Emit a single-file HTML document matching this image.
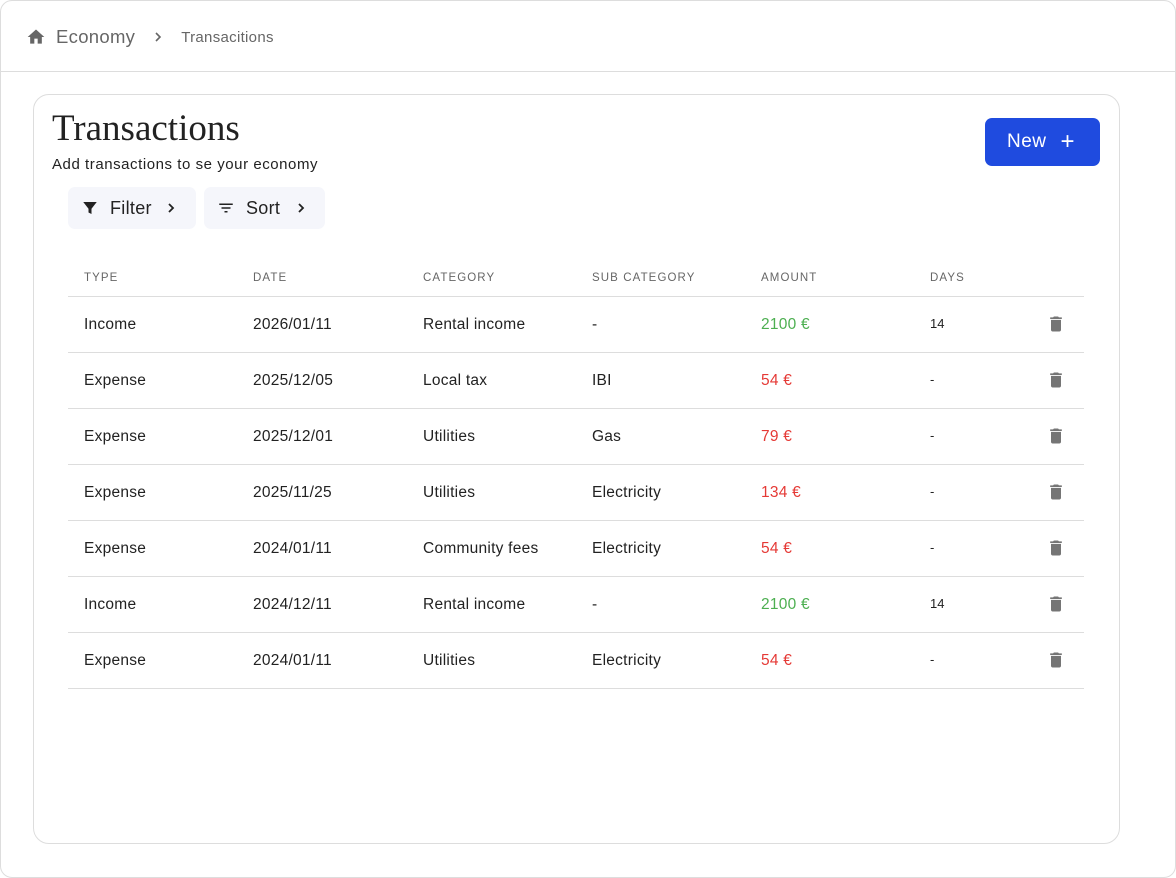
<!DOCTYPE html>
<html><head><meta charset="utf-8"><style>
*{box-sizing:border-box;margin:0;padding:0}
body{width:1176px;height:878px;background:#fff;font-family:"Liberation Sans",sans-serif;position:relative;overflow:hidden}
.frame{position:absolute;left:0;top:0;width:1176px;height:878px;border:1px solid #ddd;border-radius:12px}
.hdr{position:absolute;left:0;top:71px;width:1176px;height:1px;background:#ddd}
.crumb{position:absolute;top:26px;left:26px;display:flex;align-items:center;color:#666}
.card{position:absolute;left:33px;top:94px;width:1087px;height:750px;border:1px solid #ddd;border-radius:16px}
.title{position:absolute;left:52px;top:107px;font-family:"Liberation Serif",serif;font-size:37px;color:#222}
.sub{position:absolute;left:52px;top:156px;font-size:15px;letter-spacing:.55px;color:#222}
.btn{position:absolute;top:187px;height:42px;background:#f5f6fb;border-radius:7px;display:flex;align-items:center;font-size:18px;letter-spacing:.3px;color:#222}
.new{position:absolute;left:985px;top:118px;width:115px;height:48px;background:#1f4bdf;border-radius:7px;color:#fff;font-size:19px;letter-spacing:.5px;display:flex;align-items:center;padding-left:22px}
.th{position:absolute;top:272px;font-size:11.5px;letter-spacing:1.1px;color:#666}
.line{position:absolute;left:68px;width:1016px;height:1px;background:#ddd}
.c{position:absolute;font-size:15.5px;letter-spacing:.25px;color:#222}
.d{position:absolute;font-size:13px;color:#222}
.g{color:#4caf50}.r{color:#e53935}
</style></head><body>
<div class="frame"></div><div class="hdr"></div>
<div class="crumb"><svg width="20" height="20" viewBox="0 0 24 24"><path fill="#666" d="M10 20v-6h4v6h5v-8h3L12 3 2 12h3v8z"/></svg><span style="font-size:18.5px;margin-left:10px;letter-spacing:.3px">Economy</span><svg style="margin-left:18px" width="10" height="12" viewBox="0 0 10 12"><path d="M3 2l4 4-4 4" stroke="#666" stroke-width="1.6" fill="none"/></svg><span style="margin-left:18px;font-size:15px;letter-spacing:.3px">Transacitions</span></div>
<div class="card"></div>
<div class="title">Transactions</div>
<div class="sub">Add transactions to se your economy</div>
<div class="btn" style="left:68px;width:128px;padding-left:13px"><svg width="18" height="18" viewBox="0 0 24 24"><path fill="#222" d="M3 4h18l-7 9v7l-4-2v-5z"/></svg><span style="margin-left:11px">Filter</span><svg style="margin-left:14px" width="10" height="14" viewBox="0 0 10 14"><path d="M3 3l4 4-4 4" stroke="#222" stroke-width="1.8" fill="none"/></svg></div>
<div class="btn" style="left:204px;width:121px;padding-left:13px"><svg width="18" height="18" viewBox="0 0 24 24"><path fill="#222" d="M3 6h18v2H3zm3 5h12v2H6zm4 5h4v2h-4z"/></svg><span style="margin-left:11px">Sort</span><svg style="margin-left:16px" width="10" height="14" viewBox="0 0 10 14"><path d="M3 3l4 4-4 4" stroke="#222" stroke-width="1.8" fill="none"/></svg></div>
<div class="new">New <span style="margin-left:14px;font-size:24px;font-weight:300">+</span></div>
<div class="th" style="left:84px">TYPE</div><div class="th" style="left:253px">DATE</div><div class="th" style="left:423px">CATEGORY</div><div class="th" style="left:592px">SUB CATEGORY</div><div class="th" style="left:761px">AMOUNT</div><div class="th" style="left:930px">DAYS</div>
<div class="line" style="top:296px"></div>
<div id="rows"></div>
<script>
var R=[["Income","2026/01/11","Rental income","-","2100 €","g","14"],["Expense","2025/12/05","Local tax","IBI","54 €","r","-"],["Expense","2025/12/01","Utilities","Gas","79 €","r","-"],["Expense","2025/11/25","Utilities","Electricity","134 €","r","-"],["Expense","2024/01/11","Community fees","Electricity","54 €","r","-"],["Income","2024/12/11","Rental income","-","2100 €","g","14"],["Expense","2024/01/11","Utilities","Electricity","54 €","r","-"]];
var X=[84,253,423,592,761],h="";
R.forEach(function(r,i){var t=316+i*56;for(var j=0;j<5;j++)h+='<div class="c '+(j==4?r[5]:'')+'" style="left:'+X[j]+'px;top:'+t+'px">'+r[j]+'</div>';
h+='<div class="d" style="left:930px;top:'+t+'px">'+r[6]+'</div>';
h+='<svg style="position:absolute;left:1046px;top:'+(t-2)+'px" width="20" height="20" viewBox="0 0 24 24"><path fill="#757575" d="M6 19c0 1.1.9 2 2 2h8c1.1 0 2-.9 2-2V7H6zM19 4h-3.5l-1-1h-5l-1 1H5v2h14z"/></svg>';
h+='<div class="line" style="top:'+(t+36)+'px"></div>';});
document.getElementById("rows").innerHTML=h;
</script>
</body></html>
